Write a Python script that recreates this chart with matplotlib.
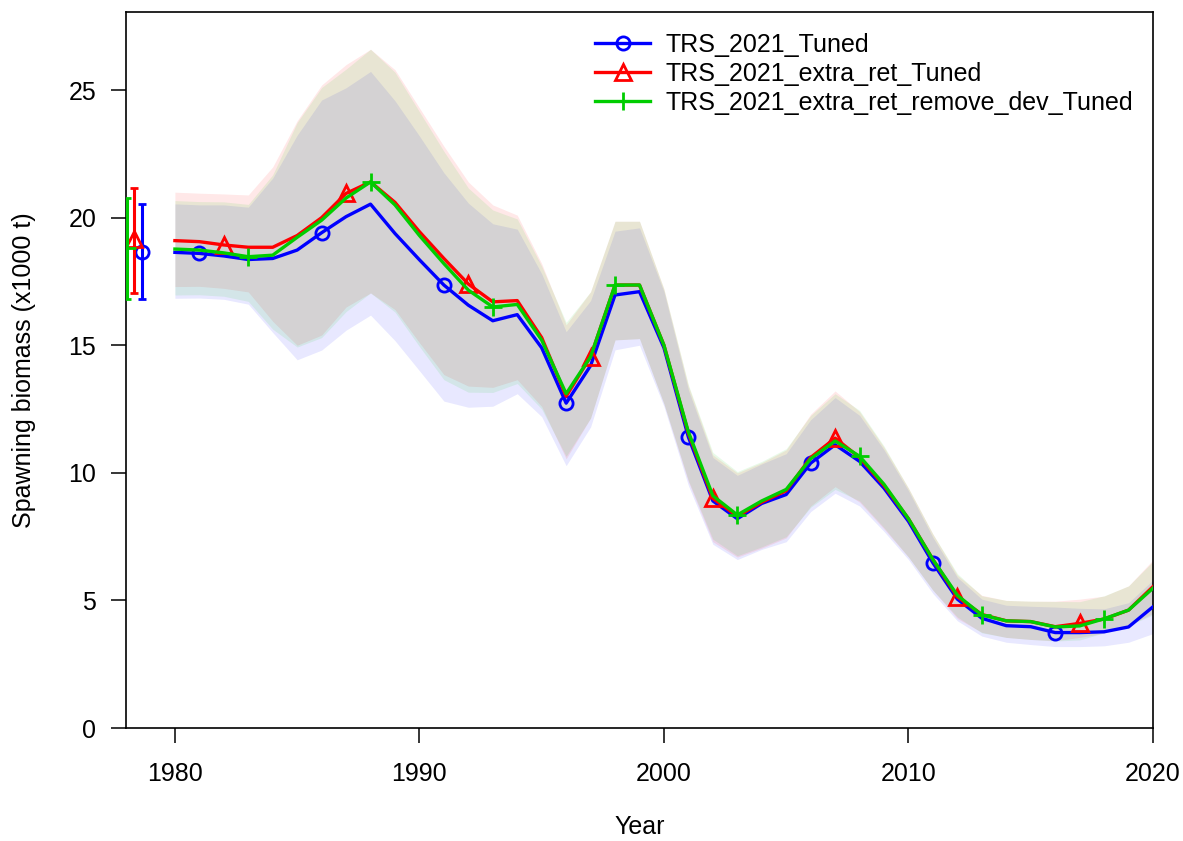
import matplotlib
matplotlib.use("Agg")
import matplotlib.pyplot as plt
import numpy as np

plt.rcParams["font.family"] = ["Liberation Sans", "DejaVu Sans"]

years = list(range(1980, 2021))

labels = ["TRS_2021_Tuned", "TRS_2021_extra_ret_Tuned", "TRS_2021_extra_ret_remove_dev_Tuned"]
colors = ["#0000FF", "#FF0000", "#00CD00"]
markers = ["o", "^", "+"]
marker_start = [1981, 1982, 1983]

ssb_tuned = [18.64, 18.6, 18.5, 18.36, 18.4, 18.73, 19.41, 20.04, 20.53, 19.38,
             18.35, 17.36, 16.57, 15.96, 16.2, 14.9, 12.73, 14.2, 16.97, 17.1,
             14.9, 11.4, 8.9, 8.2, 8.8, 9.15, 10.38, 11.1, 10.45, 9.4,
             8.1, 6.47, 5.05, 4.3, 4.01, 3.97, 3.74, 3.74, 3.77, 3.96, 4.75]
ssb_extra_ret = [19.1, 19.06, 18.93, 18.84, 18.84, 19.3, 20.0, 20.95, 21.4, 20.6,
                 19.45, 18.4, 17.4, 16.7, 16.75, 15.3, 13.0, 14.55, 17.36, 17.36,
                 15.0, 11.55, 9.0, 8.3, 8.85, 9.3, 10.6, 11.36, 10.6, 9.5,
                 8.2, 6.6, 5.14, 4.45, 4.2, 4.17, 3.97, 4.1, 4.27, 4.62, 5.54]
ssb_remove_dev = [18.77, 18.73, 18.62, 18.47, 18.53, 19.23, 19.9, 20.77, 21.4, 20.5,
                  19.3, 18.2, 17.16, 16.5, 16.6, 15.2, 13.1, 14.55, 17.36, 17.36,
                  15.0, 11.6, 9.1, 8.35, 8.9, 9.35, 10.55, 11.25, 10.65, 9.55,
                  8.2, 6.6, 5.2, 4.43, 4.2, 4.17, 3.96, 4.0, 4.28, 4.62, 5.48]

# distance from estimate to upper / lower 95% bound
ci_up = [1.9, 1.9, 2.0, 2.05, 3.15, 4.5, 5.2, 5.05, 5.2, 5.2,
         4.85, 4.4, 4.0, 3.8, 3.35, 2.9, 2.8, 2.55, 2.5, 2.5,
         2.2, 1.85, 1.7, 1.7, 1.55, 1.6, 1.7, 1.85, 1.8, 1.5,
         1.2, 1.0, 0.85, 0.75, 0.8, 0.8, 1.0, 0.95, 0.9, 0.95, 1.05]
ci_lo = [1.8, 1.75, 1.7, 1.75, 2.9, 4.3, 4.6, 4.45, 4.35, 4.2,
         4.35, 4.55, 4.0, 3.35, 3.1, 2.7, 2.45, 2.4, 2.15, 2.1,
         2.3, 1.9, 1.7, 1.6, 1.8, 1.85, 1.9, 1.9, 1.75, 1.7,
         1.5, 1.2, 0.85, 0.7, 0.65, 0.7, 0.55, 0.55, 0.55, 0.6, 1.05]

# equilibrium (virgin) biomass shown left of the time series
eq_x = [1978.66, 1978.32, 1978.05]
eq_val = [18.66, 19.15, 18.82]
eq_lo = [16.8, 17.03, 16.8]
eq_hi = [20.52, 21.17, 20.78]

series = [ssb_tuned, ssb_extra_ret, ssb_remove_dev]

fig = plt.figure(figsize=(11.83, 8.41), dpi=100)
ax = fig.add_axes([126 / 1183, 1 - 728 / 841, 1027 / 1183, 716 / 841])

yr = np.array(years)
for est, col in zip(series, colors):
    est = np.array(est)
    ax.fill_between(yr, est - np.array(ci_lo), est + np.array(ci_up),
                    color=col, alpha=0.09, linewidth=0, zorder=1)

for i, (est, col, mk, ms0) in enumerate(zip(series, colors, markers, marker_start)):
    idx = [j for j, y in enumerate(years) if y >= ms0 and (y - ms0) % 5 == 0]
    msize = {"o": 9.5, "^": 12, "+": 13}[mk]
    ax.plot(years, est, color=col, linewidth=2.4, marker=mk, markevery=idx,
            markersize=msize, markerfacecolor="none", markeredgecolor=col,
            markeredgewidth=2.0, zorder=3 + i, label=labels[i])
    ax.errorbar([eq_x[i]], [eq_val[i]],
                yerr=[[eq_val[i] - eq_lo[i]], [eq_hi[i] - eq_val[i]]],
                color=col, marker=mk, markersize=msize, markerfacecolor="none",
                markeredgewidth=2.0, elinewidth=2.2, capsize=3, capthick=2.0,
                linestyle="none", zorder=3 + i)

ax.set_xlim(1978, 2020)
ax.set_ylim(0, 28.06)
ax.set_xticks([1980, 1990, 2000, 2010, 2020])
ax.set_yticks([0, 5, 10, 15, 20, 25])

for s in ax.spines.values():
    s.set_linewidth(1.2)
ax.tick_params(axis="both", direction="out", length=10.5, width=1.1, labelsize=18)
ax.tick_params(axis="y", pad=11)
ax.tick_params(axis="x", pad=14)

ax.set_xlabel("Year", fontsize=18, va="top")
ax.xaxis.set_label_coords(0.5, -0.122)
ax.set_ylabel("Spawning biomass (x1000 t)", fontsize=18)
ax.yaxis.set_label_coords(-0.088, 0.5)

ax.legend(loc="upper left", bbox_to_anchor=(0.4567, 0.971), frameon=False,
          fontsize=18, handlelength=2.2, handletextpad=0.6, labelspacing=0.2,
          borderpad=0, borderaxespad=0)

fig.savefig("out.png", dpi=100)
